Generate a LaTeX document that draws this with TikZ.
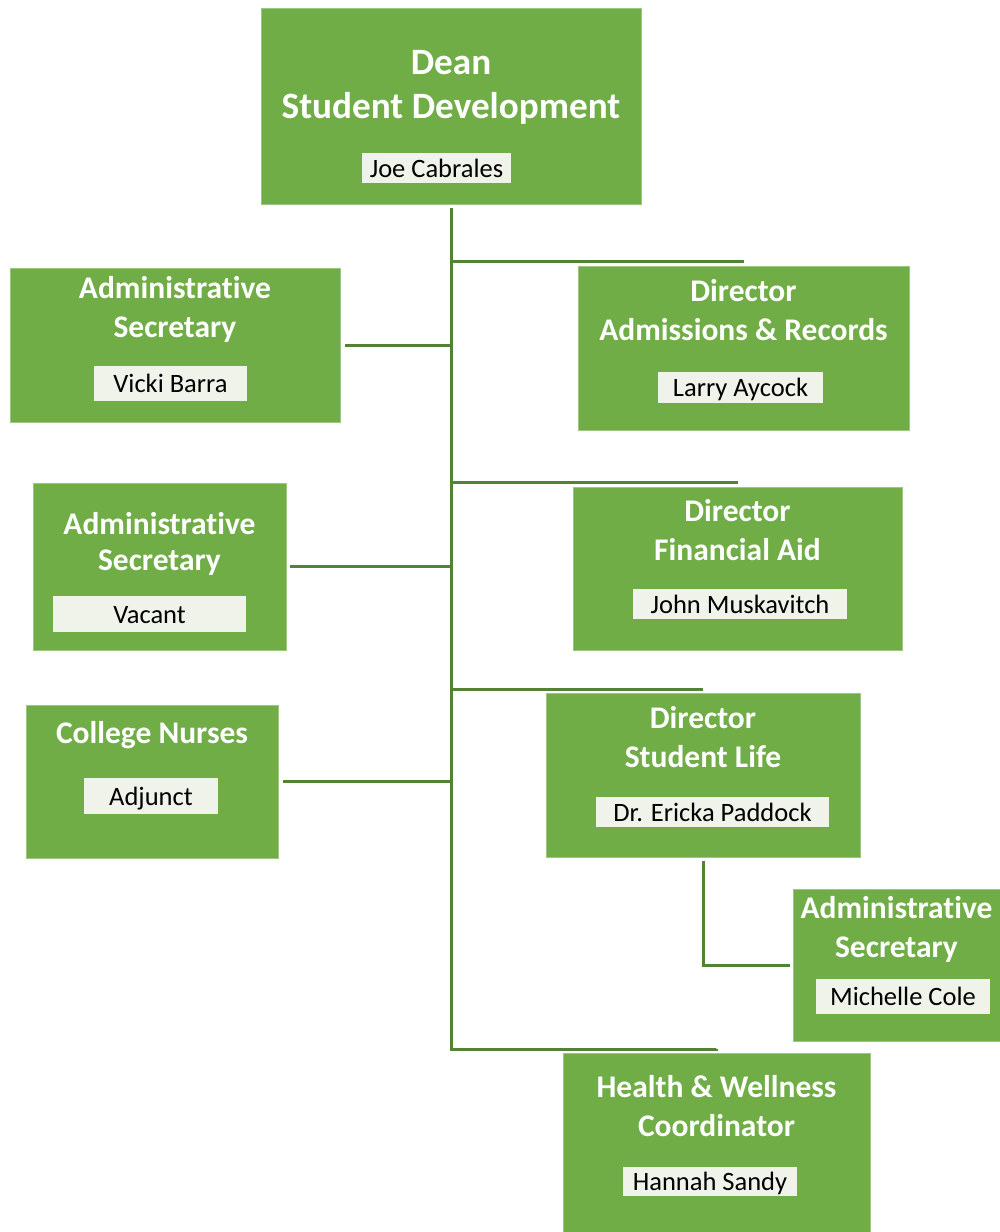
\documentclass[tikz,border=0pt]{standalone}
\usepackage{fontspec}
\setmainfont[Ligatures=NoCommon]{Carlito}
\definecolor{boxgreen}{HTML}{70AD47}
\definecolor{edgegreen}{HTML}{9CC77E}
\definecolor{linegreen}{HTML}{548235}
\definecolor{namefill}{HTML}{EFF3EA}
\tikzset{
  box/.style={draw=edgegreen, line width=1pt, fill=boxgreen, inner sep=0pt, anchor=center},
  ttl/.style={anchor=base, inner sep=0pt, text=white, font=\bfseries\fontsize{31.5}{36}\selectfont},
  bigttl/.style={anchor=base, inner sep=0pt, text=white, font=\bfseries\fontsize{37.2}{42}\selectfont},
  namebox/.style={fill=namefill, inner sep=0pt, text=black, text height=20pt, text depth=2pt, font=\fontsize{26.5}{30}\selectfont},
  conn/.style={draw=linegreen, line width=3pt}
}
\begin{document}
\begin{tikzpicture}[x=1pt,y=-1pt]
\useasboundingbox (0,0) rectangle (1000,1232);
% boxes
\node[box, minimum width=380pt, minimum height=196pt] (dean) at (451,106) {};
\node[box, minimum width=330pt, minimum height=154pt] (sec1) at (175,345) {};
\node[box, minimum width=331pt, minimum height=164pt] (adm) at (743.5,348) {};
\node[box, minimum width=329pt, minimum height=163pt] (fin) at (737.5,568.5) {};
\node[box, minimum width=253pt, minimum height=167pt] (sec2) at (159.5,566.5) {};
\node[box, minimum width=314pt, minimum height=164pt] (life) at (703,775) {};
\node[box, minimum width=252pt, minimum height=153pt] (nurse) at (152,781.5) {};
\node[box, minimum width=207pt, minimum height=152pt] (sec3) at (896.5,965) {};
\node[box, minimum width=307pt, minimum height=181pt] (health) at (716.5,1143.5) {};
% titles
\node[bigttl] (deanA) at (451,74) {Dean};
\node[bigttl] (deanB) at (451,118) {Student Development};
\node[ttl] (sec1A) at (175,298) {Administrative};
\node[ttl] (sec1B) at (175,337) {Secretary};
\node[ttl] (admA) at (743.5,301) {Director};
\node[ttl] (admB) at (743.5,340) {Admissions \& Records};
\node[ttl] (finA) at (737.5,521) {Director};
\node[ttl] (finB) at (737.5,560) {Financial Aid};
\node[ttl] (sec2A) at (159.5,534) {Administrative};
\node[ttl] (sec2B) at (159.5,570) {Secretary};
\node[ttl] (lifeA) at (703,728) {Director};
\node[ttl] (lifeB) at (703,767) {Student Life};
\node[ttl] (nurseA) at (152,743) {College Nurses};
\node[ttl] (sec3A) at (896.5,918) {Administrative};
\node[ttl] (sec3B) at (896.5,957) {Secretary};
\node[ttl] (healthA) at (716.5,1097) {Health \& Wellness};
\node[ttl] (healthB) at (716.5,1136) {Coordinator};
% names
\node[namebox, minimum width=149pt, minimum height=30pt] (joe) at (436.5,168) {Joe Cabrales};
\node[namebox, minimum width=153pt, minimum height=35pt] (vicki) at (170.5,383.5) {Vicki Barra};
\node[namebox, minimum width=165pt, minimum height=31pt] (larry) at (740.5,387.5) {Larry Aycock};
\node[namebox, minimum width=214pt, minimum height=30pt] (john) at (740,604) {John Muskavitch};
\node[namebox, minimum width=193pt, minimum height=36pt] (vacant) at (149.5,614) {Vacant};
\node[namebox, minimum width=233pt, minimum height=30pt] (paddock) at (712.5,812) {Dr. Ericka Paddock};
\node[namebox, minimum width=134pt, minimum height=36pt] (adjunct) at (151,796) {Adjunct};
\node[namebox, minimum width=174pt, minimum height=35pt] (michelle) at (903,996.5) {Michelle Cole};
\node[namebox, minimum width=174pt, minimum height=29pt] (hannah) at (710,1181.5) {Hannah Sandy};
% connectors
\coordinate (tb) at (451,1049);
\draw[conn, line cap=butt] ([yshift=-3pt]dean.south) -- (tb) -| ([yshift=4pt]health.north);
\draw[conn] (dean.south |- adm.north) ++(0,-4) coordinate (ja) -- ([yshift=4pt]adm.north);
\draw[conn] (dean.south |- fin.north) ++(0,-4) coordinate (jf) -- ([yshift=4pt]fin.north);
\draw[conn] (dean.south |- life.north) ++(0,-3) coordinate (jl) -- ([yshift=3pt]life.north);
\draw[conn] ([xshift=4pt]sec1.east) -- (sec1.east -| dean.south);
\draw[conn] ([xshift=3pt]sec2.east) -- (sec2.east -| dean.south);
\draw[conn] ([xshift=4pt]nurse.east) -- (nurse.east -| dean.south);
\draw[conn] ([yshift=-3pt]life.south) |- ([xshift=-3pt]sec3.west);
\end{tikzpicture}
\end{document}
